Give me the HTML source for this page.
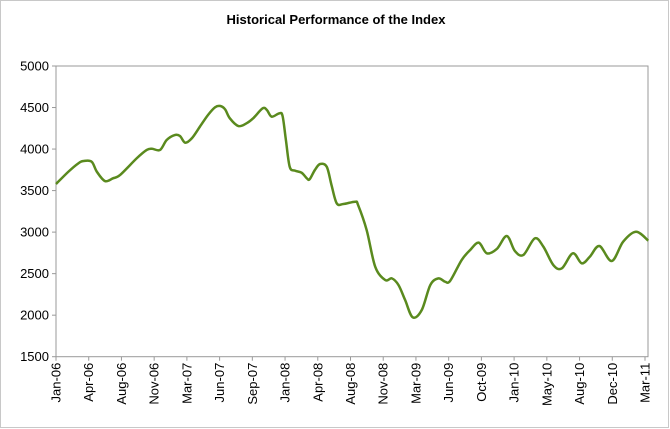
<!DOCTYPE html>
<html><head><meta charset="utf-8"><style>
body{margin:0;background:#fff}
svg{display:block;font-family:"Liberation Sans",Arial,sans-serif}
</style></head><body>
<svg id="chart" width="670" height="429">
<rect x="0.5" y="0.5" width="668" height="427" fill="#fff" stroke="#c8c8c8"/>
<text x="336" y="24" text-anchor="middle" font-size="13" font-weight="bold" fill="#000">Historical Performance of the Index</text>
<rect x="56" y="66" width="592" height="290.7" fill="#fff" stroke="#999"/>
<g id="yaxis"></g>
<g id="xaxis"></g>
<path id="line" fill="none" stroke="#5a8a1e" stroke-width="2.5" stroke-linejoin="round"/>
</svg>
<script>
const yTicks=[1500,2000,2500,3000,3500,4000,4500,5000];
const xTickLabels=["Jan-06","Apr-06","Aug-06","Nov-06","Mar-07","Jun-07","Sep-07","Jan-08","Apr-08","Aug-08","Nov-08","Mar-09","Jun-09","Oct-09","Jan-10","May-10","Aug-10","Dec-10","Mar-11"];
const months=[0,1.3,2.35,2.9,3.75,4.3,5.15,6,6.75,8.5,9.55,10.1,10.95,11.65,12.5,13.05,13.6,14.3,15.15,16,16.75,17.3,17.8,18.3,19.2,20.05,20.75,21.75,22.2,22.7,23.5,23.85,24.2,24.6,25.15,25.85,26.4,26.7,27.25,27.8,28.5,29,29.55,30.25,31.5,31.8,32.7,33.6,34.65,35.35,36.05,36.75,37.55,38.5,39.4,40.25,40.95,41.5,42.7,43.6,44.5,45.35,46.4,47.45,48.3,49.2,50.4,51.3,52.35,53.25,54.4,55.35,56.2,57.2,58.5,59.7,61.05,62.35];
const values=[3579,3727,3828,3856,3848,3727,3615,3648,3688,3889,3989,4004,3989,4109,4169,4157,4077,4130,4270,4410,4503,4518,4478,4370,4277,4310,4370,4490,4470,4390,4430,4398,4109,3787,3740,3716,3648,3636,3748,3820,3787,3567,3347,3338,3366,3326,3025,2584,2423,2443,2363,2182,1974,2062,2363,2443,2403,2415,2664,2785,2873,2745,2797,2953,2773,2725,2925,2825,2604,2564,2745,2624,2705,2833,2652,2885,3005,2897];
const X0=56,X1=645,Y0=356.7,Y1=66;
const xs=m=>X0+m/62*(X1-X0);
const ys=v=>Y0-(v-1500)/3500*(Y0-Y1);
const NS="http://www.w3.org/2000/svg";
const ya=document.getElementById('yaxis');
yTicks.forEach(v=>{
 const t=document.createElementNS(NS,'text');
 
 
 t.setAttribute('x',49);t.setAttribute('y',ys(v)+4.5);
 t.setAttribute('text-anchor','end');t.setAttribute('font-size','13');
 t.textContent=v;ya.appendChild(t);
 const l=document.createElementNS(NS,'line');
 
 
 l.setAttribute('x1',52);l.setAttribute('x2',56);l.setAttribute('y1',ys(v));l.setAttribute('y2',ys(v));
 l.setAttribute('stroke','#999');ya.appendChild(l);
});
const xa=document.getElementById('xaxis');
xTickLabels.forEach((s,i)=>{
 const x=X0+i*(X1-X0)/(xTickLabels.length-1);
 const l=document.createElementNS(NS,'line');
 
 
 l.setAttribute('x1',x);l.setAttribute('x2',x);l.setAttribute('y1',Y0);l.setAttribute('y2',Y0+4);
 l.setAttribute('stroke','#999');xa.appendChild(l);
 const t=document.createElementNS(NS,'text');
 
 
 t.setAttribute('transform',`translate(${x+4.5},${Y0+6}) rotate(-90)`);
 t.setAttribute('text-anchor','end');t.setAttribute('font-size','13');
 t.textContent=s;xa.appendChild(t);
});
const P=months.map((m,i)=>[xs(m),ys(values[i])]);
let d=`M${P[0][0]},${P[0][1]}`;
for(let i=0;i<P.length-1;i++){
 const p0=P[i-1]||P[i],p1=P[i],p2=P[i+1],p3=P[i+2]||P[i+1];
 const c1=[p1[0]+(p2[0]-p0[0])/6,p1[1]+(p2[1]-p0[1])/6];
 const c2=[p2[0]-(p3[0]-p1[0])/6,p2[1]-(p3[1]-p1[1])/6];
 d+=`C${c1[0]},${c1[1]} ${c2[0]},${c2[1]} ${p2[0]},${p2[1]}`;
}
document.getElementById('line').setAttribute('d',d);
</script>
</body></html>
